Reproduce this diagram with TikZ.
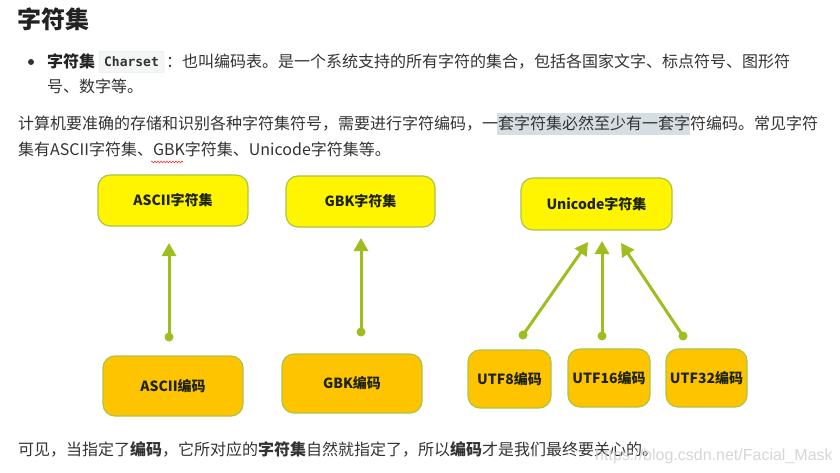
\documentclass[tikz,border=0pt]{standalone}
\usepackage{fontspec}
\setmainfont{Noto Sans CJK SC}
\setmonofont{DejaVu Sans Mono}
\newfontfamily\wmfont{Liberation Sans}
\usetikzlibrary{arrows.meta,decorations.pathmorphing}
\definecolor{txt}{HTML}{333333}
\definecolor{head}{HTML}{222222}
\definecolor{setyellow}{HTML}{FFF500}
\definecolor{codeorange}{HTML}{FFC400}
\definecolor{bordercol}{HTML}{A9C546}
\definecolor{boxtext}{HTML}{1E2410}
\definecolor{arrowcol}{HTML}{9DBE1E}
\definecolor{hl}{HTML}{D6DEE3}
\definecolor{codebg}{HTML}{F4F5F5}
\definecolor{codeborder}{HTML}{DDDFE0}
\definecolor{wmcol}{HTML}{CFCFCF}
\tikzset{
  line/.style={anchor=base west, inner sep=0pt, text=txt, font=\fontsize{16}{16}\selectfont},
  box/.style={rounded corners=12pt, draw=bordercol, line width=1.2pt, inner sep=0pt,
    text=boxtext, font=\fontsize{14}{14}\selectfont\bfseries},
  setbox/.style={box, fill=setyellow},
  encbox/.style={box, fill=codeorange},
  conn/.style={draw=arrowcol, line width=3pt, -{Triangle[width=14pt,length=13pt]}},
  dot/.style={fill=arrowcol}
}
\begin{document}
\begin{tikzpicture}[x=1pt,y=-1pt]
\useasboundingbox[fill=white] (0,0) rectangle (840,473);

% heading
\node[anchor=base west, inner sep=0pt, text=head, font=\fontsize{24}{24}\selectfont\bfseries] (title) at (17,29) {字符集};

% bullet
\fill[txt] (31,62) circle (3pt);
\node[line, font=\fontsize{16}{16}\selectfont\bfseries, text=head] (b1) at (47,68) {字符集};
\node[draw=codeborder, fill=codebg, rounded corners=2pt, minimum width=65pt, minimum height=21pt, inner sep=0pt,
  font=\fontsize{13}{13}\selectfont\ttfamily\bfseries, text=txt] (code) at (131.5,62) {Charset};
\node[line] (b2) at (166,68) {：也叫编码表。是一个系统支持的所有字符的集合，包括各国家文字、标点符号、图形符};
\node[line] (b3) at (47,93) {号、数字等。};

% paragraph
\fill[hl] (497,113) rectangle (690,135);
\node[line] (p1) at (18,130) {计算机要准确的存储和识别各种字符集符号，需要进行字符编码，一套字符集必然至少有一套字符编码。常见字符};
\node[line] (p2) at (18,156) {集有ASCII字符集、GBK字符集、Unicode字符集等。};
\draw[red!80, line width=0.6pt, decorate, decoration={snake, amplitude=0.9pt, segment length=3pt}] (151,162) -- (183,162);

% boxes
\node[setbox, minimum width=150pt, minimum height=51pt] (asciiset) at (173,200.5) {ASCII字符集};
\node[setbox, minimum width=149pt, minimum height=51pt] (gbkset) at (360.5,201.5) {GBK字符集};
\node[setbox, minimum width=151pt, minimum height=52pt] (uniset) at (596.5,204) {Unicode字符集};

\node[encbox, minimum width=140pt, minimum height=60pt] (asciienc) at (173,386) {ASCII编码};
\node[encbox, minimum width=140pt, minimum height=59pt] (gbkenc) at (352,383.5) {GBK编码};
\node[encbox, minimum width=83pt, minimum height=58pt] (utf8) at (509.5,379) {UTF8编码};
\node[encbox, minimum width=82pt, minimum height=58pt] (utf16) at (609,378) {UTF16编码};
\node[encbox, minimum width=81pt, minimum height=58pt] (utf32) at (706.5,378) {UTF32编码};

% connector ends
\coordinate (d1) at (169,337);  \coordinate (t1) at (169,243);
\coordinate (d2) at (361,332);  \coordinate (t2) at (361,238);
\coordinate (d3) at (523,335);  \coordinate (t3) at (588,242);
\coordinate (d4) at (602,336);  \coordinate (t4) at (602,241);
\coordinate (d5) at (683,336);  \coordinate (t5) at (621,243);

\foreach \i in {1,...,5}{
  \draw[conn] (d\i) -- (t\i);
  \fill[dot] (d\i) circle (4.5pt);
}

% footer
\node[line] (f1) at (18,455) {可见，当指定了\textbf{编码}，它所对应的\textbf{字符集}自然就指定了，所以\textbf{编码}才是我们最终要关心的。};
\node[anchor=base west, inner sep=0pt, text=wmcol, opacity=0.85, font=\wmfont\fontsize{16}{16}\selectfont] (wm) at (595,460) {https://blog.csdn.net/Facial\_Mask};
\end{tikzpicture}
\end{document}
